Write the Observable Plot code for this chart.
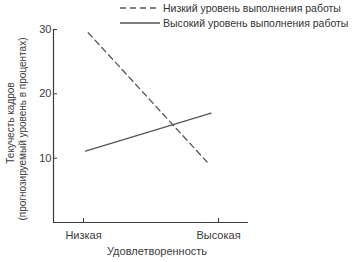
<!DOCTYPE html>
<html>
<head>
<meta charset="utf-8">
<script src="https://cdn.jsdelivr.net/npm/d3@7"></script>
<script src="https://cdn.jsdelivr.net/npm/@observablehq/plot@0.6"></script>
<style>
  html, body { margin: 0; padding: 0; background: #fff; }
  #wrap { position: relative; width: 357px; height: 262px; font-family: "Liberation Sans", Arial, sans-serif; color: #333; }
  #legend { position: absolute; left: 120px; top: 0; font-size: 10.5px; }
  .item { position: absolute; left: 0; white-space: nowrap; display: flex; align-items: center; }
  .item svg { display: block; margin-right: 3px; }
</style>
</head>
<body>
<div id="wrap">
  <div id="chart"></div>
  <div id="legend"></div>
</div>
<script>
// Data
const categories = ["Низкая", "Высокая"];           // satisfaction levels (x ticks at 0 and 1)
const categoryPos = [0, 1];
const seriesNames = ["Низкий уровень выполнения работы", "Высокий уровень выполнения работы"];
const lowPerfX = [0.02, 0.9];
const lowPerfY = [29.5, 9.4];
const highPerfX = [0, 0.93];
const highPerfY = [11.1, 17];
const yTicks = [10, 20, 30];
const yLabel1 = "Текучесть кадров";
const yLabel2 = "(прогнозируемый уровень в процентах)";
const xLabel = "Удовлетворенность";

const rows = [
  ...lowPerfX.map((x, i) => ({x, y: lowPerfY[i], s: seriesNames[0]})),
  ...highPerfX.map((x, i) => ({x, y: highPerfY[i], s: seriesNames[1]}))
];

const ink = "#3a3a3a";
const lineInk = "#555";

const chart = Plot.plot({
  width: 357,
  height: 262,
  marginLeft: 53,
  marginRight: 109,
  marginTop: 29,
  marginBottom: 40,
  style: {fontFamily: "Liberation Sans, Arial, sans-serif", fontSize: "11px", color: ink, background: "white"},
  x: {domain: [-0.237, 1.207], ticks: categoryPos, tickFormat: d => categories[categoryPos.indexOf(d)]},
  y: {domain: [0, 30], ticks: yTicks},
  marks: [
    Plot.axisX({ticks: categoryPos, tickFormat: d => categories[categoryPos.indexOf(d)], tickSize: -4, tickPadding: 13, dx: -2, label: null, stroke: ink, fill: ink}),
    Plot.axisY({ticks: yTicks, tickSize: -4, tickPadding: 6, label: null, stroke: ink, fill: ink}),
    Plot.ruleY([0], {stroke: ink, strokeWidth: 1.2}),
    Plot.ruleX([-0.237], {y1: 0, y2: 30, stroke: ink, strokeWidth: 1.2}),
    Plot.line(rows.filter(d => d.s === seriesNames[0]), {x: "x", y: "y", stroke: lineInk, strokeWidth: 1.3, strokeDasharray: "6,4"}),
    Plot.line(rows.filter(d => d.s === seriesNames[1]), {x: "x", y: "y", stroke: lineInk, strokeWidth: 1.3}),
    Plot.text([yLabel1], {frameAnchor: "left", textAnchor: "middle", rotate: -90, dx: -43, dy: -3, fill: ink, fontSize: 10}),
    Plot.text([yLabel2], {frameAnchor: "left", textAnchor: "middle", rotate: -90, dx: -31, dy: 3, fill: ink, fontSize: 10}),
    Plot.text([xLabel], {frameAnchor: "bottom", dy: 32, dx: 6, fill: ink, fontSize: 11})
  ]
});
document.getElementById("chart").appendChild(chart);

// Legend
const legend = document.getElementById("legend");
const legendTops = [1, 16];
const dashes = ["6,4", null];
seriesNames.forEach((name, i) => {
  const div = document.createElement("div");
  div.className = "item";
  div.style.top = legendTops[i] + "px";
  div.innerHTML = `<svg width="40" height="14"><line x1="0" x2="40" y1="7" y2="7" stroke="${lineInk}" stroke-width="1.3" ${dashes[i] ? `stroke-dasharray="${dashes[i]}"` : ""}/></svg><span>${name}</span>`;
  legend.appendChild(div);
});
</script>
</body>
</html>
